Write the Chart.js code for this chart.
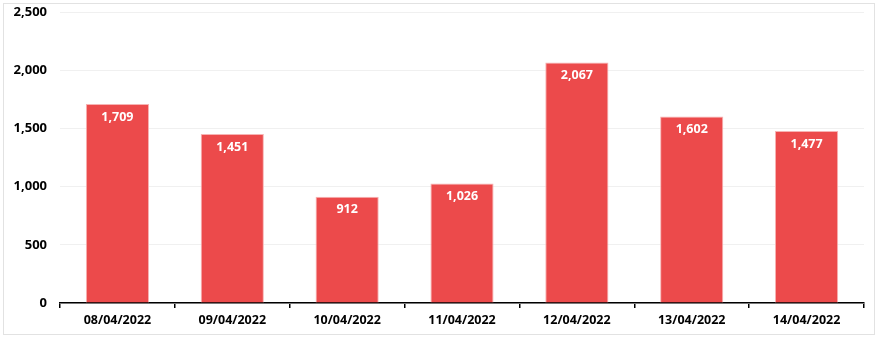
<!DOCTYPE html>
<html><head><meta charset="utf-8">
<script src="https://cdn.jsdelivr.net/npm/chart.js@4/dist/chart.umd.min.js"></script>
<style>
html,body{margin:0;padding:0;background:#fff;}
#frame{position:absolute;left:3px;top:3px;width:872px;height:332px;border:1px solid #e2e2e2;box-sizing:border-box;}
#wrap{position:absolute;left:0;top:0;width:880px;height:340px;}
</style></head>
<body>
<div id="frame"></div>
<div id="wrap"><canvas id="c" width="880" height="340"></canvas></div>
<script>
const categories = ["08/04/2022","09/04/2022","10/04/2022","11/04/2022","12/04/2022","13/04/2022","14/04/2022"];
const values = [1709,1451,912,1026,2067,1602,1477];
const yTicks = [0,500,1000,1500,2000,2500];

const fmt = v => v.toLocaleString('en-US');
const FONT = "'Open Sans', 'DejaVu Sans', sans-serif";

const labelPlugin = {
  id: 'barLabels',
  afterDatasetsDraw(chart){
    const ctx = chart.ctx;
    const meta = chart.getDatasetMeta(0);
    ctx.save();
    ctx.fillStyle = '#ffffff';
    ctx.font = "bold 12.5px " + FONT;
    ctx.textAlign = 'center';
    ctx.textBaseline = 'middle';
    meta.data.forEach((bar,i)=>{
      ctx.fillText(fmt(values[i]), bar.x, bar.y + 13);
    });
    ctx.restore();
  }
};

new Chart(document.getElementById('c'), {
  type: 'bar',
  data: {
    labels: categories,
    datasets: [{
      data: values,
      backgroundColor: '#ec4a4b',
      borderColor: '#f7b3b3',
      borderWidth: 1,
      categoryPercentage: 1,
      barPercentage: 0.55
    }]
  },
  options: {
    responsive: false,
    maintainAspectRatio: false,
    animation: false,
    layout: { padding: { left: 0, right: 16, top: 12, bottom: 0 } },
    plugins: { legend: { display: false }, title: { display: false }, tooltip: { enabled: false } },
    scales: {
      x: {
        grid: { display: true, drawOnChartArea: false, offset: true, tickLength: 5, color: '#000', lineWidth: 1.5 },
        border: { display: true, color: '#000', width: 1.5 },
        ticks: { color: '#000', font: { family: FONT, size: 12.5, weight: 'bold' }, padding: 5, maxRotation: 0 },
        afterFit(s){ s.height = 37; s.paddingLeft = 0; s.paddingRight = 0; }
      },
      y: {
        min: 0, max: 2500,
        afterBuildTicks(s){ s.ticks = yTicks.map(v=>({value:v})); },
        grid: { color: '#f0f0f0', drawTicks: false, lineWidth: 1 },
        border: { display: false },
        ticks: { color: '#000', font: { family: FONT, size: 13, weight: 'bold' }, padding: 13, callback: v => fmt(v) },
        afterFit(s){ s.width = 60; s.paddingTop = 0; s.paddingBottom = 0; }
      }
    }
  },
  plugins: [labelPlugin]
});
</script>
</body></html>
